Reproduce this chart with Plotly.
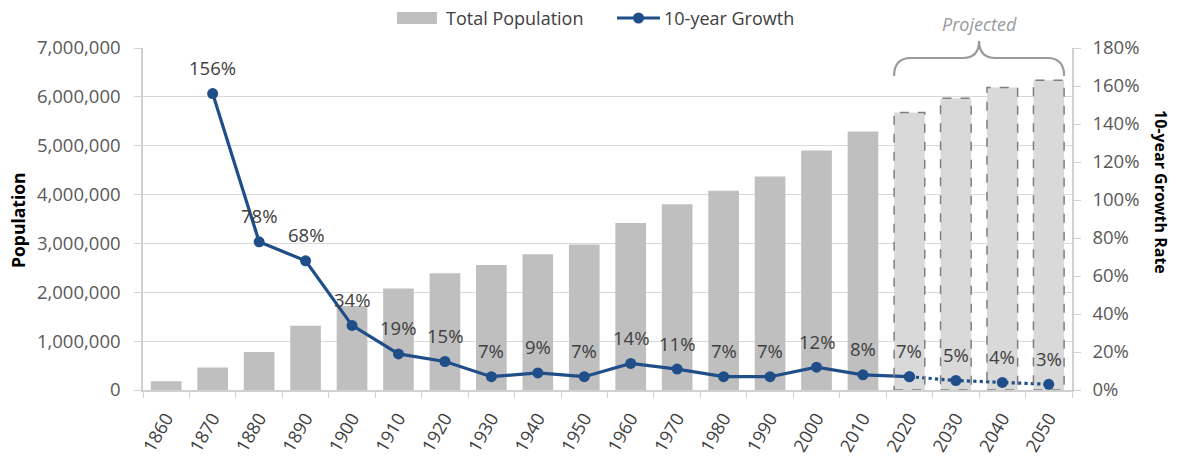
import plotly.graph_objects as go

# ---- data -------------------------------------------------------------
years = ["1860", "1870", "1880", "1890", "1900", "1910", "1920", "1930", "1940", "1950",
         "1960", "1970", "1980", "1990", "2000", "2010", "2020", "2030", "2040", "2050"]
population = [180000, 460000, 780000, 1316000, 1720000, 2080000, 2390000, 2560000, 2780000, 2980000,
              3420000, 3800000, 4080000, 4370000, 4900000, 5290000, 5680000, 5970000, 6190000, 6340000]
# 10-year growth rate (no value for the first decade)
growth = [None, 1.56, 0.78, 0.68, 0.34, 0.19, 0.15, 0.07, 0.09, 0.07,
          0.14, 0.11, 0.07, 0.07, 0.12, 0.08, 0.07, 0.05, 0.04, 0.03]
projected_from = "2020"
series_names = ["Total Population", "10-year Growth"]

# ---- styling ----------------------------------------------------------
FONT = "Open Sans"
BAR_COLOR = "#bfbfbf"
PROJ_COLOR = "#d9d9d9"
PROJ_EDGE = "#7f7f7f"
LINE_COLOR = "#1f4e89"
GRID = "#d9d9d9"
AXIS = "#d0d0d0"
TICK_TXT = "#595959"
LABEL_TXT = "#404040"
BAR_WIDTH = 0.66

# plot-area geometry in pixels (used for the hand-drawn legend/titles)
W, H = 1177, 456
ML, MR, MT, MB = 143, 105, 48, 66
PW, PH = W - ML - MR, H - MT - MB


def px(x):
    return (x - ML) / PW


def py(y):
    return (H - MB - y) / PH


p_idx = years.index(projected_from)
n = len(years)

fig = go.Figure()

bar_colors = [BAR_COLOR if i < p_idx else PROJ_COLOR for i in range(n)]
fig.add_trace(go.Bar(
    x=years, y=population, name=series_names[0],
    marker=dict(color=bar_colors, line=dict(width=0)),
    width=BAR_WIDTH, yaxis="y", showlegend=False,
))

# solid historic growth line
hist_x = [y for y, g in zip(years[:p_idx + 1], growth[:p_idx + 1]) if g is not None]
hist_g = [g for g in growth[:p_idx + 1] if g is not None]
fig.add_trace(go.Scatter(
    x=hist_x, y=hist_g, name=series_names[1], mode="lines+markers",
    line=dict(color=LINE_COLOR, width=3.2),
    marker=dict(color=LINE_COLOR, size=11),
    yaxis="y2", showlegend=False,
))
# dotted projected growth line
fig.add_trace(go.Scatter(
    x=years[p_idx:], y=growth[p_idx:], mode="lines+markers", showlegend=False,
    line=dict(color=LINE_COLOR, width=3.2, dash="dot"),
    marker=dict(color=LINE_COLOR, size=11),
    yaxis="y2",
))

# dashed outlines around projected bars
shapes = []
for i in range(p_idx, n):
    shapes.append(dict(
        type="rect", xref="x", yref="y",
        x0=i - BAR_WIDTH / 2, x1=i + BAR_WIDTH / 2, y0=0, y1=population[i],
        line=dict(color=PROJ_EDGE, width=1.5, dash="dash"),
        fillcolor="rgba(0,0,0,0)", layer="above",
    ))

# curly brace over the projected decades (paper x from category index)
def cx(idx):
    return (idx + 0.5) / n

xl = cx(p_idx - BAR_WIDTH / 2)
xr = cx(n - 1 + BAR_WIDTH / 2)
xm = (xl + xr) / 2
dx = 0.018
y_end, y_mid, y_tip = py(76), py(58), py(41)
brace = (f"M {xl},{y_end} Q {xl},{y_mid} {xl + dx},{y_mid} "
         f"L {xm - dx},{y_mid} Q {xm},{y_mid} {xm},{y_tip} "
         f"Q {xm},{y_mid} {xm + dx},{y_mid} "
         f"L {xr - dx},{y_mid} Q {xr},{y_mid} {xr},{y_end}")
shapes.append(dict(type="path", xref="paper", yref="paper", path=brace,
                   line=dict(color="#9a9a9a", width=2.2)))

# legend keys
ly = py(18)
shapes += [
    dict(type="rect", xref="paper", yref="paper",
         x0=px(397), x1=px(437), y0=py(24), y1=py(12),
         fillcolor=BAR_COLOR, line=dict(width=0)),
    dict(type="line", xref="paper", yref="paper",
         x0=px(617), x1=px(660), y0=ly, y1=ly,
         line=dict(color=LINE_COLOR, width=3.2)),
    dict(type="circle", xref="paper", yref="paper",
         x0=px(633), x1=px(644), y0=py(23.5), y1=py(12.5),
         fillcolor=LINE_COLOR, line=dict(width=0)),
]

annotations = []
# growth value labels (category index used for x)
for i, g in enumerate(growth):
    if g is None:
        continue
    annotations.append(dict(
        x=i, y=g, xref="x", yref="y2", text=f"{round(g * 100)}%",
        showarrow=False, yshift=26, font=dict(family=FONT, size=18.5, color=LABEL_TXT),
    ))

annotations += [
    dict(x=px(444), y=ly, xref="paper", yref="paper", text=series_names[0],
         xanchor="left", yanchor="middle", showarrow=False,
         font=dict(family=FONT, size=18, color=LABEL_TXT)),
    dict(x=px(662), y=ly, xref="paper", yref="paper", text=series_names[1],
         xanchor="left", yanchor="middle", showarrow=False,
         font=dict(family=FONT, size=18, color=LABEL_TXT)),
    dict(x=xm, y=py(24), xref="paper", yref="paper", text="<i>Projected</i>",
         xanchor="center", yanchor="middle",
         showarrow=False, font=dict(family=FONT, size=18, color="#9a9a9a")),
    dict(x=px(18), y=py(220), xref="paper", yref="paper", text="<b>Population</b>",
         xanchor="center", yanchor="middle",
         textangle=-90, showarrow=False, font=dict(family=FONT, size=17.5, color="#000000")),
    dict(x=px(1161), y=py(192), xref="paper", yref="paper", text="<b>10-year Growth Rate</b>",
         xanchor="center", yanchor="middle",
         textangle=90, showarrow=False, font=dict(family=FONT, size=16, color="#000000")),
]

fig.update_layout(
    width=W, height=H,
    margin=dict(l=ML, r=MR, t=MT, b=MB, autoexpand=False),
    paper_bgcolor="white", plot_bgcolor="white",
    font=dict(family=FONT, color=LABEL_TXT),
    showlegend=False,
    xaxis=dict(
        type="category", categoryorder="array", categoryarray=years,
        range=[-0.5, n - 0.5], tickangle=-60, tickson="boundaries",
        ticks="outside", ticklen=6, tickcolor=AXIS, ticklabelstandoff=9,
        showline=True, linecolor=AXIS, linewidth=1.5,
        tickfont=dict(family=FONT, size=18, color=LABEL_TXT),
        showgrid=False,
    ),
    yaxis=dict(
        range=[0, 7000000], dtick=1000000, tickformat=",d",
        showgrid=True, gridcolor=GRID, gridwidth=1.2,
        showline=True, linecolor=AXIS, linewidth=1.5,
        ticks="outside", ticklen=7, tickcolor=AXIS, ticklabelstandoff=10,
        tickfont=dict(family=FONT, size=18.5, color=TICK_TXT),
        zeroline=False,
    ),
    yaxis2=dict(
        overlaying="y", side="right", range=[0, 1.8], dtick=0.2, tickformat=".0%",
        showgrid=False, showline=True, linecolor=AXIS, linewidth=1.5,
        ticks="outside", ticklen=7, tickcolor=AXIS, ticklabelstandoff=8,
        tickfont=dict(family=FONT, size=18.5, color=TICK_TXT),
        zeroline=False,
    ),
    shapes=shapes,
    annotations=annotations,
)

fig.write_html("out.html")
